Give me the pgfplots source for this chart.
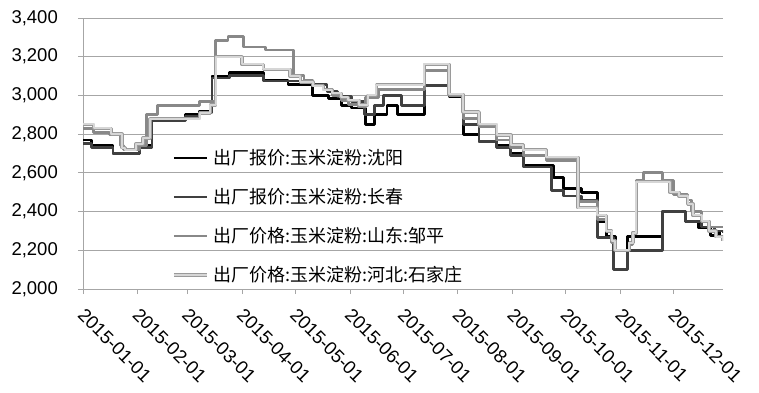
\documentclass[border=0pt]{standalone}
\usepackage{pgfplots}
\pgfplotsset{compat=1.18}
\usepackage{fontspec}
\setmainfont{Liberation Sans}
\newfontfamily\cjk{Noto Sans CJK SC}
\definecolor{c1}{HTML}{000000}
\definecolor{c2}{HTML}{404040}
\definecolor{c3}{HTML}{888888}
\definecolor{c4}{HTML}{D6D6D6}
\definecolor{c4e}{HTML}{9A9A9A}
\definecolor{gridc}{HTML}{A6A6A6}
\pgfplotsset{myleg/.style={legend image code/.code={\draw[##1] (0bp,0bp) -- (33bp,0bp); \path (38bp,0bp);}}}
\begin{document}
\begin{tikzpicture}
\path[use as bounding box] (0,0) rectangle (759bp,393bp);
\begin{axis}[
 at={(83bp,104bp)}, anchor=south west,
 scale only axis, width=640bp, height=271bp,
 xmin=0, xmax=362, ymin=2000, ymax=3400,
 axis lines*=left,
 axis line style={gridc, line width=0.8bp},
 ytick={2000,2200,...,3400},
 xtick={0,31,59,90,120,151,181,212,243,273,304,334},
 xticklabels={2015-01-01,2015-02-01,2015-03-01,2015-04-01,2015-05-01,2015-06-01,2015-07-01,2015-08-01,2015-09-01,2015-10-01,2015-11-01,2015-12-01},
 ymajorgrids, grid style={gridc, line width=0.8bp},
 tick align=outside, major tick length=5bp,
 tick style={gridc, line width=0.8bp},
 scaled y ticks=false,
 /pgf/number format/.cd, 1000 sep={,}, assume math mode=true, /pgfplots/.cd,
 tick label style={font=\fontsize{18.5bp}{21bp}\selectfont, text=black},
 yticklabel style={anchor=east, inner sep=0pt, xshift=-20bp},
 xticklabel style={yshift=-13bp, xshift=3bp, rotate=-45, anchor=north west, inner sep=0pt},
 legend cell align=left,
 legend style={at={(axis description cs:0.139,0.517)}, anchor=north west, draw=none, fill=none, inner sep=0pt, row sep=21bp, nodes={inner sep=0pt, text height=15bp, text depth=3bp}, font=\cjk\fontsize{18bp}{21bp}\selectfont},
]
\addplot[const plot, c1, line width=2.8bp, line join=round, myleg] coordinates {
(0,2770)(5,2740)(17,2700)(32,2740)(39,2880)(58,2900)(66,2920)(73,3100)(83,3120)(102,3080)(116,3055)(130,3000)(139,2985)(146,2950)(152,2935)(160,2850)(165,2900)(172,2950)(178,2900)(193,3050)(207,2995)(215,2800)(224,2760)(234,2740)(242,2700)(249,2640)(266,2575)(272,2520)(282,2500)(291,2350)(296,2270)(301,2200)(308,2270)(328,2400)(341,2350)(348,2315)(355,2275)(360,2300)(362,2300)};
\addplot[const plot, c2, line width=2.8bp, line join=round, myleg] coordinates {
(0,2750)(5,2730)(17,2700)(32,2730)(39,2870)(58,2890)(66,2910)(73,3090)(83,3105)(102,3075)(125,3065)(130,3055)(138,3020)(144,2995)(152,2970)(159,2900)(165,2950)(170,3000)(180,2950)(193,3050)(207,3000)(215,2850)(224,2760)(234,2730)(242,2690)(249,2630)(265,2510)(272,2480)(282,2460)(291,2265)(300,2100)(308,2200)(328,2400)(341,2350)(350,2320)(357,2300)(362,2290)};
\addplot[const plot, c3, line width=2.8bp, line join=round, myleg] coordinates {
(0,2830)(6,2810)(15,2800)(21,2740)(23,2720)(32,2740)(36,2900)(42,2950)(66,2970)(75,3285)(82,3305)(91,3250)(103,3235)(119,3105)(125,3080)(130,3050)(136,3030)(141,3000)(146,2975)(150,2955)(156,2940)(160,2990)(167,3030)(193,3130)(207,3000)(215,2880)(224,2840)(234,2770)(242,2730)(249,2690)(262,2665)(280,2450)(291,2360)(296,2300)(299,2240)(301,2200)(309,2230)(311,2290)(313,2560)(317,2600)(328,2560)(334,2490)(342,2460)(344,2400)(350,2350)(354,2320)(362,2320)};
\addplot[const plot, draw=c4e, line width=0.7bp, double=c4, double distance=2bp, line join=round, myleg] coordinates {
(0,2850)(6,2830)(16,2800)(22,2730)(24,2720)(30,2750)(34,2780)(38,2880)(66,2910)(72,2950)(75,3200)(90,3160)(102,3135)(117,3100)(123,3070)(130,3050)(136,3030)(141,3010)(146,2990)(150,2975)(156,2950)(161,3000)(166,3055)(193,3160)(207,3005)(215,2915)(224,2850)(234,2795)(242,2745)(249,2720)(262,2680)(280,2420)(291,2380)(296,2300)(299,2250)(301,2200)(309,2240)(311,2290)(313,2555)(332,2500)(337,2480)(342,2440)(345,2380)(350,2350)(354,2300)(358,2270)(362,2250)};
\legend{出厂报价:玉米淀粉:沈阳,出厂报价:玉米淀粉:长春,出厂价格:玉米淀粉:山东:邹平,出厂价格:玉米淀粉:河北:石家庄}
\end{axis}
\end{tikzpicture}
\end{document}
